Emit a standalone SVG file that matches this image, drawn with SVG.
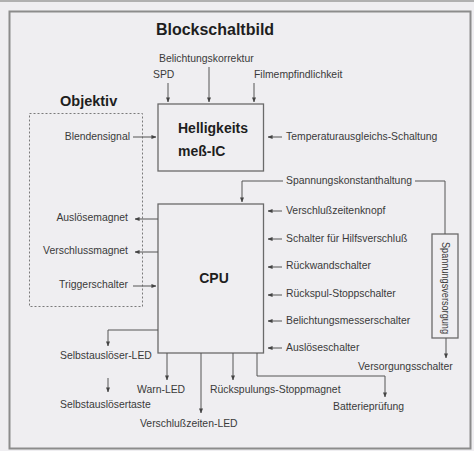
<svg xmlns="http://www.w3.org/2000/svg" width="474" height="451" viewBox="0 0 474 451">
  <defs>
    <marker id="ah" viewBox="0 0 6 6" refX="5.5" refY="3" markerWidth="5" markerHeight="5" orient="auto" markerUnits="userSpaceOnUse">
      <path d="M0,0.6 L6,3 L0,5.4 Z" fill="#444"/>
    </marker>
    <style>
      .lbl { font-family: "Liberation Sans", Arial, sans-serif; font-size: 10.4px; fill: #3a3a3a; }
      .end { text-anchor: end; }
      .bold { font-family: "Liberation Sans", Arial, sans-serif; font-weight: bold; fill: #1e1e1e; }
      .box { fill: none; stroke: #6a6a6a; stroke-width: 1.3; }
      .wire { fill: none; stroke: #555; stroke-width: 1; }
      .arr { fill: none; stroke: #555; stroke-width: 1; marker-end: url(#ah); }
    </style>
  </defs>

  <!-- sheet and frame -->
  <rect x="0" y="0" width="474" height="451" fill="#efeef1"/>
  <line x1="0" y1="1" x2="474" y2="1" stroke="#b0b0b0" stroke-width="2"/>
  <rect x="9.5" y="11.5" width="461" height="437" fill="none" stroke="#8c8c8c" stroke-width="2"/>

  <text class="bold" x="215" y="35" font-size="16" text-anchor="middle">Blockschaltbild</text>

  <!-- lens section -->
  <g id="objektiv">
    <text class="bold" x="60" y="106" font-size="14.5">Objektiv</text>
    <rect x="29.5" y="113.5" width="113" height="193" fill="none" stroke="#7a7a7a" stroke-width="1" stroke-dasharray="2,2"/>
  </g>

  <!-- light metering IC -->
  <g id="helligkeits-ic">
    <rect class="box" x="158" y="104" width="105.5" height="67"/>
    <text class="bold" x="178" y="133" font-size="14">Helligkeits</text>
    <text class="bold" x="178" y="156" font-size="14">meß-IC</text>
  </g>

  <!-- processor -->
  <g id="cpu">
    <rect class="box" x="158" y="204" width="105.5" height="149"/>
    <text class="bold" x="214" y="283" font-size="14" text-anchor="middle">CPU</text>
  </g>

  <!-- power supply -->
  <g id="spannungsversorgung">
    <rect class="box" x="432" y="234" width="26" height="104"/>
    <text class="lbl" x="0" y="0" font-size="10" textLength="92" lengthAdjust="spacingAndGlyphs" transform="translate(441.5,242) rotate(90)">Spannungsversorgung</text>
  </g>

  <!-- signal labels -->
  <g id="labels">
    <text class="lbl" x="159" y="62">Belichtungskorrektur</text>
    <text class="lbl" x="153" y="78">SPD</text>
    <text class="lbl" x="254" y="78">Filmempfindlichkeit</text>
    <text class="lbl end" x="130" y="140">Blendensignal</text>
    <text class="lbl" x="286" y="140">Temperaturausgleichs-Schaltung</text>
    <text class="lbl end" x="128" y="221">Auslösemagnet</text>
    <text class="lbl end" x="128" y="254">Verschlussmagnet</text>
    <text class="lbl end" x="128" y="288">Triggerschalter</text>
    <text class="lbl" x="286" y="184">Spannungskonstanthaltung</text>
    <text class="lbl" x="286" y="214">Verschlußzeitenknopf</text>
    <text class="lbl" x="286" y="242">Schalter für Hilfsverschluß</text>
    <text class="lbl" x="286" y="269">Rückwandschalter</text>
    <text class="lbl" x="286" y="297">Rückspul-Stoppschalter</text>
    <text class="lbl" x="286" y="324">Belichtungsmesserschalter</text>
    <text class="lbl" x="286" y="351">Auslöseschalter</text>
    <text class="lbl" x="60" y="359">Selbstauslöser-LED</text>
    <text class="lbl" x="60" y="408">Selbstauslösertaste</text>
    <text class="lbl" x="137" y="393">Warn-LED</text>
    <text class="lbl" x="140" y="427">Verschlußzeiten-LED</text>
    <text class="lbl" x="210" y="393">Rückspulungs-Stoppmagnet</text>
    <text class="lbl" x="333" y="410">Batterieprüfung</text>
    <text class="lbl" x="358" y="370">Versorgungsschalter</text>
  </g>

  <!-- connectors -->
  <g id="connectors">
    <!-- inputs to the metering IC -->
    <line class="arr" x1="168" y1="83" x2="168" y2="102"/>
    <line class="arr" x1="209" y1="67" x2="209" y2="102"/>
    <line class="arr" x1="254" y1="83" x2="254" y2="102"/>
    <line class="arr" x1="133" y1="137" x2="156" y2="137"/>
    <line class="arr" x1="282" y1="137" x2="268" y2="137"/>

    <!-- lens side of the CPU -->
    <line class="arr" x1="158" y1="219" x2="135" y2="219"/>
    <line class="arr" x1="158" y1="252" x2="135" y2="252"/>
    <line class="arr" x1="133" y1="286" x2="156" y2="286"/>

    <!-- voltage regulation and supply -->
    <polyline class="arr" points="283,181 242,181 242,202"/>
    <polyline class="wire" points="415,181 445,181 445,234"/>
    <line class="arr" x1="446" y1="338" x2="446" y2="358"/>

    <!-- switch inputs on the right -->
    <line class="arr" x1="282" y1="211" x2="268" y2="211"/>
    <line class="arr" x1="282" y1="239" x2="268" y2="239"/>
    <line class="arr" x1="282" y1="267" x2="268" y2="267"/>
    <line class="arr" x1="282" y1="295" x2="268" y2="295"/>
    <line class="arr" x1="282" y1="321" x2="268" y2="321"/>
    <line class="arr" x1="282" y1="348" x2="268" y2="348"/>

    <!-- outputs below -->
    <polyline class="arr" points="158,330 108,330 108,346"/>
    <line class="arr" x1="108" y1="378" x2="108" y2="392"/>
    <line class="arr" x1="167" y1="353" x2="167" y2="380"/>
    <line class="arr" x1="201" y1="353" x2="201" y2="413"/>
    <line class="arr" x1="233" y1="353" x2="233" y2="380"/>
    <polyline class="arr" points="257,353 257,376 385,376 385,397"/>
  </g>
</svg>
